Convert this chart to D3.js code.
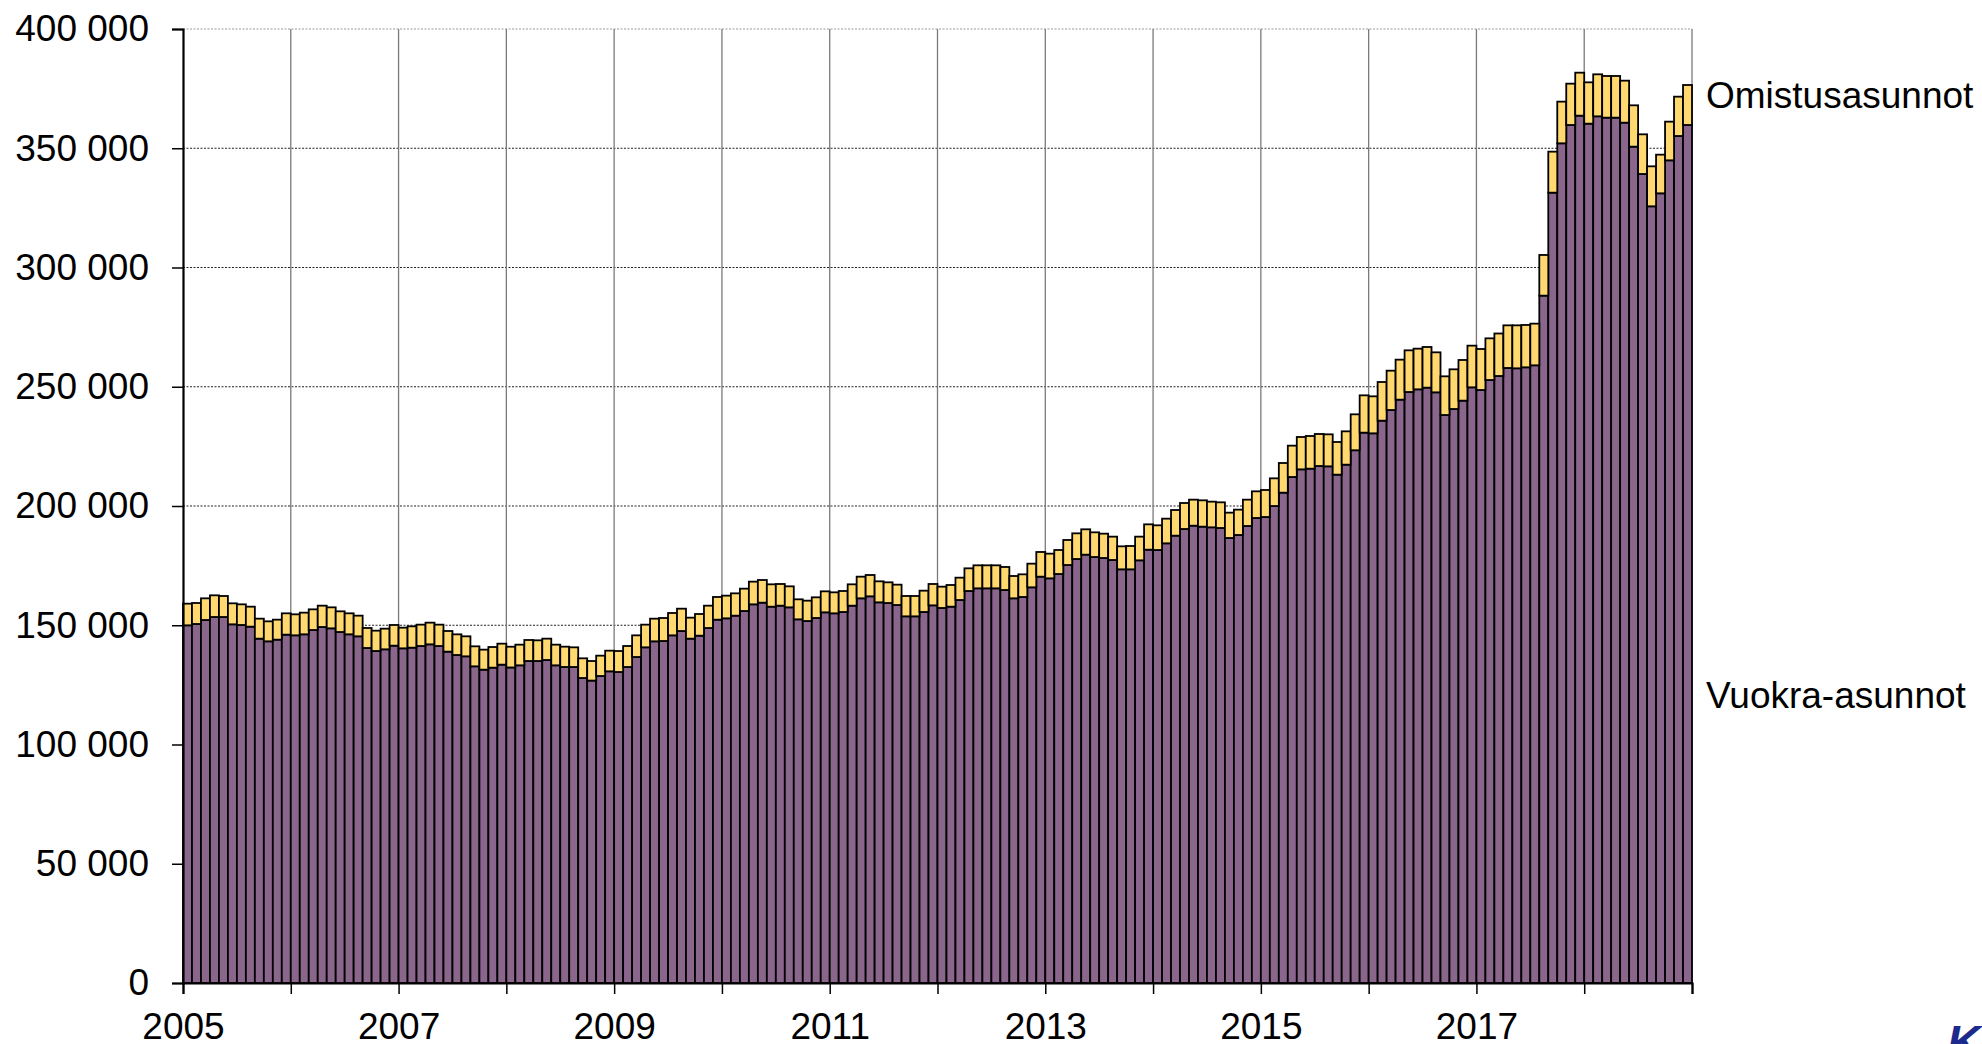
<!DOCTYPE html>
<html>
<head>
<meta charset="utf-8">
<script src="https://cdn.jsdelivr.net/npm/d3@7"></script>
<style>
  html, body { margin: 0; padding: 0; background: #fff; overflow: hidden; }
  svg { display: block; }
  text { font-family: "Liberation Sans", Arial, sans-serif; }
</style>
</head>
<body>
<svg id="chart" width="1982" height="1044"></svg>
<script>
// ---- data (monthly, Jan 2005 – Dec 2018) ----
const years = d3.range(2005, 2019);
const months = years.flatMap(yr => d3.range(1, 13).map(m => yr + "-" + String(m).padStart(2, "0")));

const vuokraAsunnot = [
  149970,150530,152200,153460,153460,150390,150110,149410,144380,143260,143960,146060,
  145780,146200,148010,149270,148710,147170,146200,145360,140470,139210,139910,141440,
  140320,140600,141300,142000,141300,138930,137530,136970,132780,131380,132220,133480,
  132300,133200,135010,135010,135430,133200,132500,132500,127880,126800,128720,130680,
  130400,132500,136690,140740,143260,143400,145770,147590,144380,145630,148850,152340,
  152900,154020,155980,158770,159470,157790,158210,157510,152480,151780,153040,155420,
  155000,155560,158210,161290,162130,159610,159330,158490,153740,153740,155560,158350,
  157240,157790,160590,164360,165480,165480,165480,164780,161290,161850,165900,170370,
  169670,171490,175260,177780,179600,178620,178200,177360,173450,173450,177220,181690,
  181550,184350,187560,190360,191750,191340,191060,190780,186590,187850,191620,194970,
  195390,199990,205590,212160,215370,215650,216770,216630,213140,217330,223370,230750,
  230470,235780,240250,244590,247800,248920,249620,247660,238150,240670,244170,249760,
  248640,252830,254510,257870,257730,258150,258990,288200,331380,352070,359750,363670,
  360310,363390,362830,362830,360730,350670,339210,325650,331100,344940,355140,359750
];
const omistusAsunnot = [
  9080,8800,9090,9090,8810,8800,8660,8380,8380,8380,8380,8940,
  8800,9080,8660,8940,8800,8670,8800,8660,8380,8520,8660,8670,
  8670,8950,8950,9090,8950,8660,8660,8390,8380,8390,8660,8800,
  8700,8660,8810,8670,8950,8660,8520,8240,8250,8210,8530,8660,
  8800,8800,9080,9510,9500,9640,9370,9360,8800,9090,9360,9510,
  9510,9360,9360,9510,9500,9370,9090,8810,8390,8530,8670,8800,
  8800,8800,8950,9080,8940,8810,8670,8530,8530,8530,8940,8950,
  8940,9090,9360,9510,9650,9650,9650,9650,9360,9500,9920,10350,
  10350,10060,10490,10760,10630,10340,10200,9790,9640,9780,9930,10620,
  10350,10340,10760,10900,10910,11040,10760,10760,10620,10620,11040,11180,
  11320,11610,12440,13140,13560,13700,13420,13420,13700,13980,15070,15650,
  15510,16210,16490,16770,17470,17050,17050,16770,16220,16640,17050,17470,
  17190,17470,17820,17880,18020,17750,17470,17050,17190,17470,17330,18020,
  17330,17610,17470,17470,17610,17330,16630,16770,16210,16210,16490,16770
];
const yTicks = [0, 50000, 100000, 150000, 200000, 250000, 300000, 350000, 400000];
const xTickYears = d3.range(2005, 2020);
const xLabelYears = [2005, 2007, 2009, 2011, 2013, 2015, 2017];
const seriesLabels = { omistus: "Omistusasunnot", vuokra: "Vuokra-asunnot" };
const logoText = "Kela";

// ---- layout ----
const plotLeft = 183, plotRight = 1692, plotTop = 29, plotBottom = 983;
const svg = d3.select("#chart");

const table = months.map((m, i) => ({ month: m, vuokra: vuokraAsunnot[i], omistus: omistusAsunnot[i] }));
const stacked = d3.stack().keys(["vuokra", "omistus"])(table);

const x = d3.scaleBand().domain(months).range([plotLeft, plotRight]).padding(0);
const xYear = d3.scaleLinear().domain([2005, 2019]).range([plotLeft, plotRight]);
const y = d3.scaleLinear().domain([0, 400000]).range([plotBottom, plotTop]);

const fmt = d3.formatLocale({ decimal: ",", thousands: " ", grouping: [3], currency: ["", " €"] }).format(",d");

// horizontal grid lines
svg.append("g").selectAll("line").data(yTicks.filter(t => t > 0)).join("line")
  .attr("x1", plotLeft).attr("x2", plotRight)
  .attr("y1", d => y(d)).attr("y2", d => y(d))
  .attr("stroke", d => d === 400000 ? "#9a9a9a" : "#222")
  .attr("stroke-width", 1)
  .attr("stroke-dasharray", "2,1.5");

// vertical grid lines
svg.append("g").selectAll("line").data(d3.range(2006, 2020)).join("line")
  .attr("x1", d => xYear(d)).attr("x2", d => xYear(d))
  .attr("y1", plotTop).attr("y2", plotBottom)
  .attr("stroke", "#7a7a7a")
  .attr("stroke-width", 1.3);

// bars
const colors = { vuokra: "#8a668c", omistus: "#ffd870" };
svg.append("g").selectAll("g").data(stacked).join("g")
  .attr("fill", d => colors[d.key])
  .selectAll("rect").data(d => d).join("rect")
  .attr("x", d => x(d.data.month))
  .attr("width", x.bandwidth())
  .attr("y", d => y(d[1]))
  .attr("height", d => y(d[0]) - y(d[1]))
  .attr("stroke", "#000")
  .attr("stroke-width", 1.8);

// y axis
const yAxis = d3.axisLeft(y).tickValues(yTicks).tickSize(11).tickPadding(23).tickFormat(d => fmt(d));
const gy = svg.append("g").attr("transform", `translate(${plotLeft},0)`).call(yAxis);
gy.select(".domain").attr("stroke", "#000").attr("stroke-width", 2.2);
gy.selectAll(".tick line").attr("stroke", "#000").attr("stroke-width", 1.5);
gy.selectAll(".tick text")
  .attr("font-size", 37).attr("fill", "#000")
  .attr("font-family", "'Liberation Sans', Arial, sans-serif");

// x axis
const xAxis = d3.axisBottom(xYear).tickValues(xTickYears).tickSize(11).tickPadding(19)
  .tickFormat(d => xLabelYears.includes(d) ? String(d) : "");
const gx = svg.append("g").attr("transform", `translate(0,${plotBottom})`).call(xAxis);
gx.select(".domain").attr("stroke", "#000").attr("stroke-width", 2.2);
gx.selectAll(".tick line").attr("stroke", "#000").attr("stroke-width", 1.5);
gx.selectAll(".tick text")
  .attr("font-size", 37).attr("fill", "#000")
  .attr("font-family", "'Liberation Sans', Arial, sans-serif");

// series labels
svg.append("text").attr("x", 1706).attr("y", 108).attr("font-size", 37).attr("fill", "#000")
  .text(seriesLabels.omistus);
svg.append("text").attr("x", 1706).attr("y", 708).attr("font-size", 37).attr("fill", "#000")
  .text(seriesLabels.vuokra);

// partial logo at bottom-right
svg.append("text").attr("x", 1947).attr("y", 1058).attr("font-size", 46)
  .attr("font-weight", "bold").attr("font-style", "italic").attr("fill", "#1b2a8c")
  .text(logoText);
</script>
</body>
</html>
